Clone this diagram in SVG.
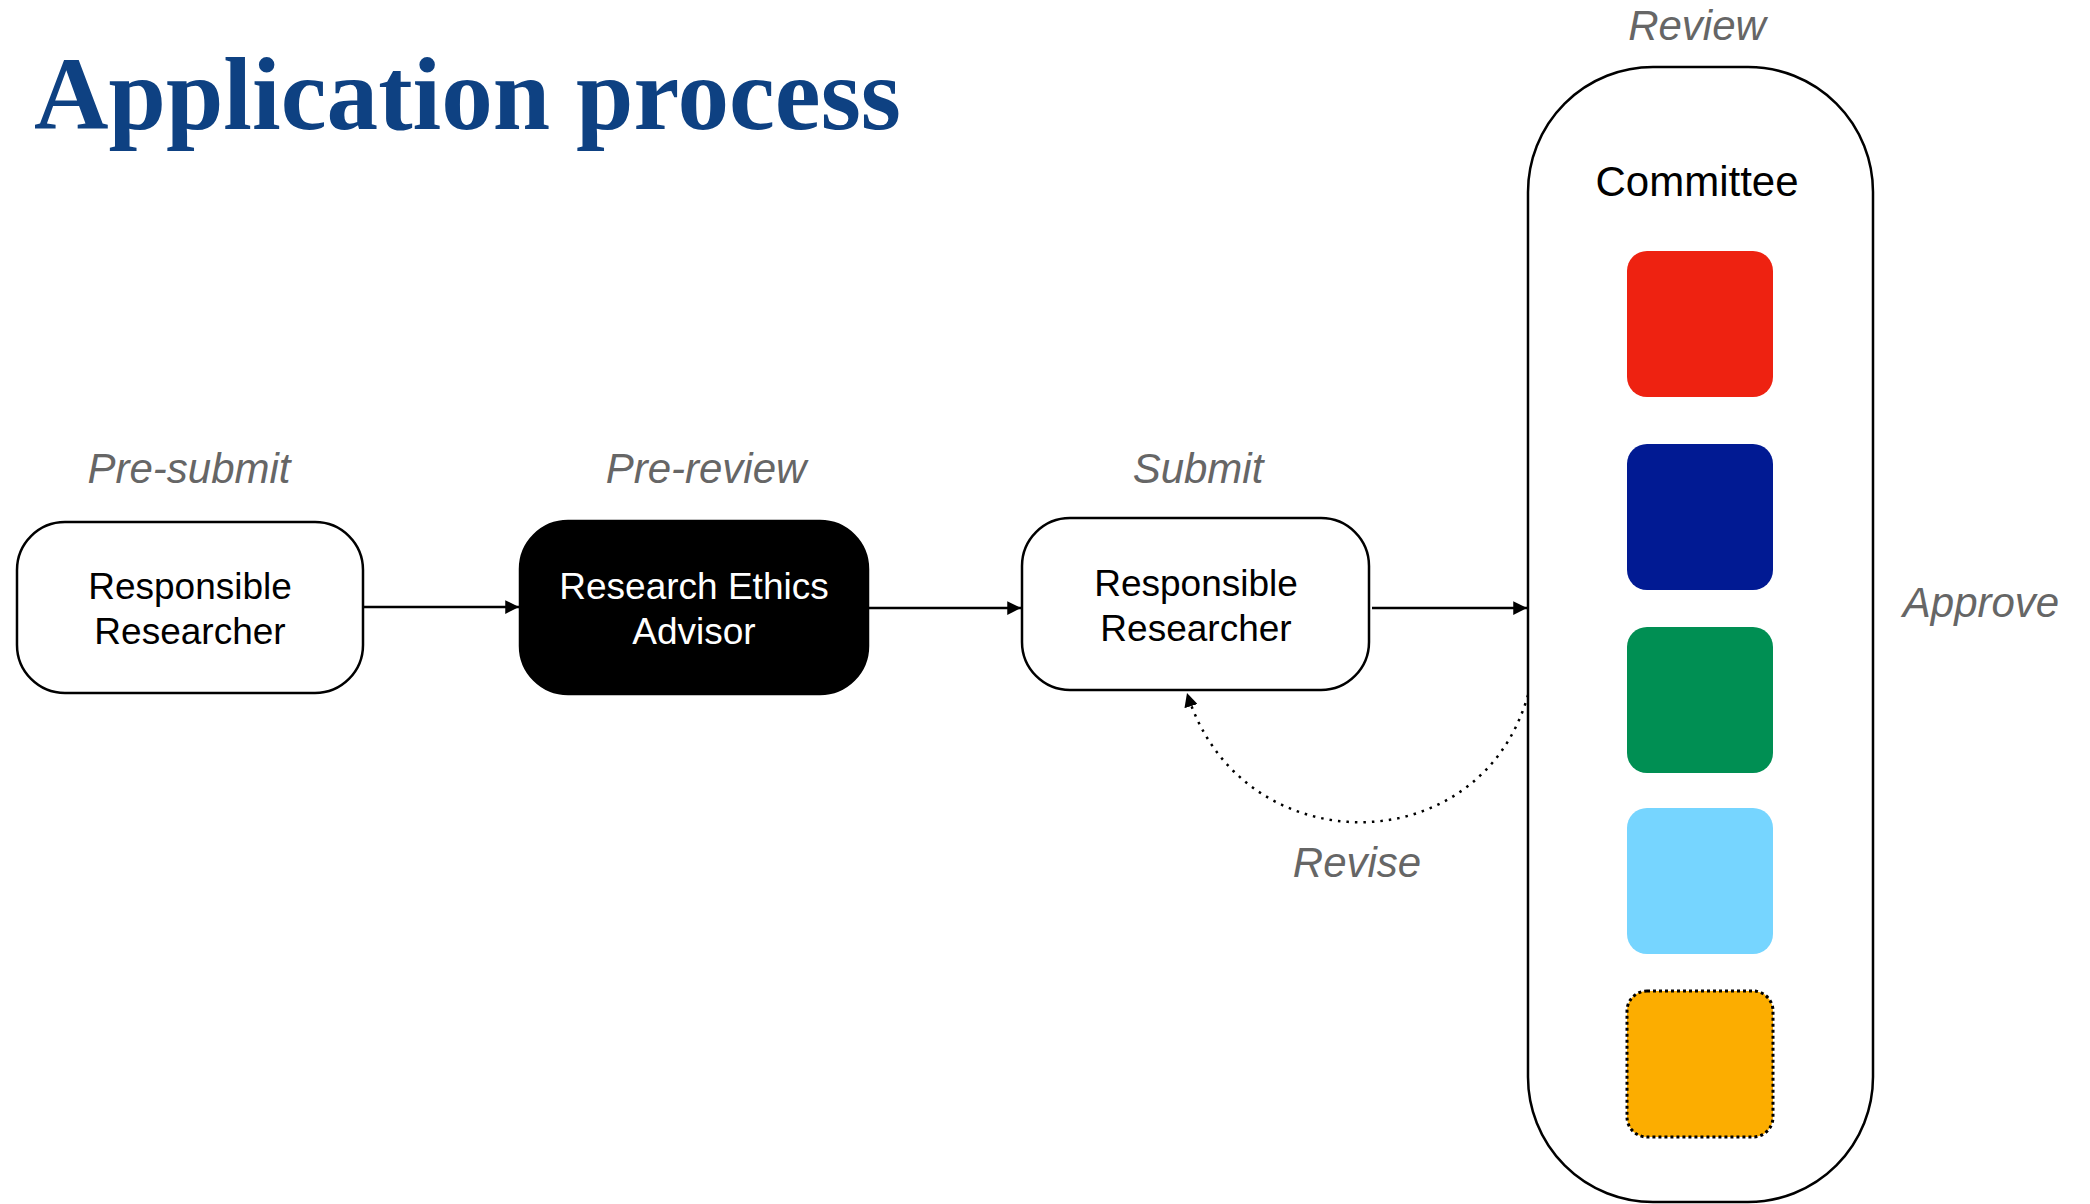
<svg xmlns="http://www.w3.org/2000/svg" width="2090" height="1204" viewBox="0 0 2090 1204">
<defs>
<style>
.title{font-family:"Liberation Serif",serif;font-weight:bold;font-size:103px;fill:#0e4182}
.stage{font-family:"Liberation Sans",Arial,sans-serif;font-style:italic;font-size:42px;fill:#666666;text-anchor:middle}
.lbl{font-family:"Liberation Sans",Arial,sans-serif;font-size:37px;fill:#000;text-anchor:middle}
.box{fill:#fff;stroke:#000;stroke-width:2.5}
.edge{fill:none;stroke:#000;stroke-width:2.5}
.sq{stroke:none}
</style>
<marker id="ah" viewBox="0 0 10 10" refX="10" refY="5" markerWidth="5.5" markerHeight="5.5" markerUnits="strokeWidth" orient="auto">
<path d="M0,0 L10,5 L0,10 Z" fill="#000"/>
</marker>
</defs>
<rect width="2090" height="1204" fill="#fff"/>
<text class="title" x="34" y="129" textLength="867" lengthAdjust="spacingAndGlyphs">Application process</text>

<g id="stage-labels">
<text class="stage" x="189" y="483">Pre-submit</text>
<text class="stage" x="706" y="483">Pre-review</text>
<text class="stage" x="1198" y="483">Submit</text>
<text class="stage" x="1697" y="40">Review</text>
<text class="stage" x="1981" y="617">Approve</text>
<text class="stage" x="1357" y="877">Revise</text>
</g>

<g id="connectors">
<line class="edge" x1="364" y1="607" x2="519" y2="607" marker-end="url(#ah)"/>
<line class="edge" x1="868" y1="608" x2="1021" y2="608" marker-end="url(#ah)"/>
<line class="edge" x1="1372" y1="608" x2="1527" y2="608" marker-end="url(#ah)"/>
<path class="edge" d="M1528,695 C1480,865 1240,865 1187,693" stroke-dasharray="2.5 6" marker-end="url(#ah)"/>
</g>

<g id="node-presubmit">
<rect class="box" x="17" y="522" width="346" height="171" rx="48" ry="48"/>
<text class="lbl" x="190" y="599">Responsible</text>
<text class="lbl" x="190" y="644">Researcher</text>
</g>

<g id="node-prereview">
<rect x="520" y="521" width="348" height="173" rx="48" ry="48" fill="#000" stroke="#000" stroke-width="2.5"/>
<text class="lbl" x="694" y="599" style="fill:#fff">Research Ethics</text>
<text class="lbl" x="694" y="644" style="fill:#fff">Advisor</text>
</g>

<g id="node-submit">
<rect class="box" x="1022" y="518" width="347" height="172" rx="48" ry="48"/>
<text class="lbl" x="1196" y="596">Responsible</text>
<text class="lbl" x="1196" y="641">Researcher</text>
</g>

<g id="node-committee">
<rect class="box" x="1528" y="67" width="345" height="1135" rx="125" ry="125"/>
<text class="lbl" x="1697" y="196" style="font-size:42px">Committee</text>
<rect class="sq" x="1627" y="251" width="146" height="146" rx="20" ry="20" fill="#ee2211"/>
<rect class="sq" x="1627" y="444" width="146" height="146" rx="20" ry="20" fill="#011a93"/>
<rect class="sq" x="1627" y="627" width="146" height="146" rx="20" ry="20" fill="#008f53"/>
<rect class="sq" x="1627" y="808" width="146" height="146" rx="20" ry="20" fill="#76d5ff"/>
<rect x="1627" y="991" width="146" height="146" rx="20" ry="20" fill="#fcad00" stroke="#000" stroke-width="3" stroke-dasharray="3 3"/>
</g>
</svg>
